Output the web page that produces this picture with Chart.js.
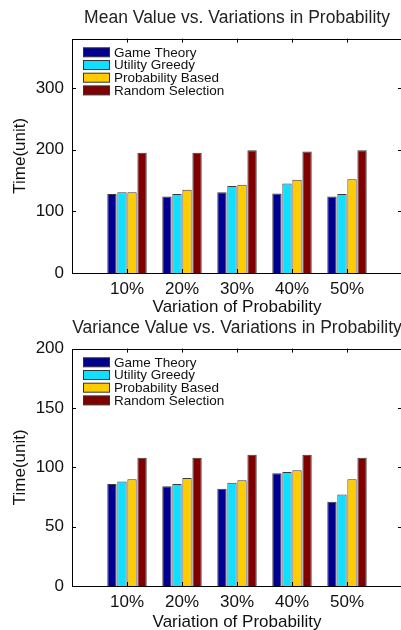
<!DOCTYPE html>
<html>
<head>
<meta charset="utf-8">
<script src="https://cdn.jsdelivr.net/npm/chart.js@4/dist/chart.umd.min.js"></script>
<style>
  html, body { margin: 0; padding: 0; background: #fff; overflow: hidden; width: 401px; height: 630px; }
  .box { position: absolute; left: 0; width: 420px; height: 315px; }
  #box1 { top: 0; }
  #box2 { top: 315px; }
</style>
</head>
<body>
<div class="box" id="box1"><canvas id="meanChart" width="420" height="315"></canvas></div>
<div class="box" id="box2"><canvas id="varChart" width="420" height="315"></canvas></div>
<script>
// blank categories at both ends give the 0..6 x range of the original axes
const categories = ['', '10%', '20%', '30%', '40%', '50%', ''];
const seriesNames = ['Game Theory', 'Utility Greedy', 'Probability Based', 'Random Selection'];
const seriesColors = ['#000090', '#10e0ff', '#ffcc00', '#800000'];

const meanGameTheory = [null, 128, 124, 131, 129, 124, null];
const meanUtilityGreedy = [null, 131, 128, 141, 145, 128, null];
const meanProbBased = [null, 131, 135, 143, 151, 152, null];
const meanRandom = [null, 195, 195, 199, 197, 199, null];

const varGameTheory = [null, 86, 84, 82, 95, 71, null];
const varUtilityGreedy = [null, 88, 86, 87, 96, 77, null];
const varProbBased = [null, 90, 91, 89, 97.5, 90, null];
const varRandom = [null, 108, 108, 110.5, 110.5, 108, null];

const meanTicks = [0, 100, 200, 300];
const varTicks = [0, 50, 100, 150, 200];

const FONT = 'Liberation Sans, Arial, Helvetica, sans-serif';

const frame = {
    id: 'frame',
    afterDraw(chart) {
        const ctx = chart.ctx;
        const a = chart.chartArea;
        const x = chart.scales.x, y = chart.scales.y;
        const t = 4;
        ctx.save();
        ctx.strokeStyle = '#000';
        ctx.lineWidth = 1;
        ctx.strokeRect(Math.round(a.left) + 0.5, Math.round(a.top) + 0.5, Math.round(a.right - a.left), Math.round(a.bottom - a.top));
        ctx.beginPath();
        y.ticks.forEach(tk => {
            const py = Math.round(y.getPixelForValue(tk.value)) + 0.5;
            ctx.moveTo(a.left, py); ctx.lineTo(a.left + t, py);
            ctx.moveTo(a.right, py); ctx.lineTo(a.right - t, py);
        });
        categories.forEach((c, i) => {
            if (!c) return;
            const px = Math.round(x.getPixelForValue(i)) + 0.5;
            ctx.moveTo(px, a.bottom); ctx.lineTo(px, a.bottom - t);
            ctx.moveTo(px, a.top); ctx.lineTo(px, a.top + t);
        });
        ctx.stroke();

        // legend inside the axes, top left
        ctx.font = '13.5px ' + FONT;
        ctx.textBaseline = 'middle';
        chart.data.datasets.forEach((ds, i) => {
            const cy = a.top + 13.7 + i * 12.7;
            ctx.fillStyle = ds.backgroundColor;
            ctx.fillRect(a.left + 11, cy - 4.5, 27, 9);
            ctx.strokeStyle = '#333';
            ctx.strokeRect(a.left + 11.5, cy - 4.5, 26, 9);
            ctx.fillStyle = '#111';
            ctx.fillText(ds.label, a.left + 42, cy + 0.5);
        });
        ctx.restore();
    }
};

function makeChart(id, title, series, ticks, yMax, titlePad, xHeight) {
    return new Chart(document.getElementById(id), {
        type: 'bar',
        data: {
            labels: categories,
            datasets: series.map((d, i) => ({
                label: seriesNames[i],
                data: d,
                backgroundColor: seriesColors[i],
                borderColor: '#3a3a3a',
                borderWidth: 1,
                categoryPercentage: 0.73,
                barPercentage: 0.93
            }))
        },
        options: {
            responsive: false,
            animation: false,
            layout: { padding: { left: 0, right: 18, top: 0, bottom: 0 } },
            plugins: {
                legend: { display: false },
                tooltip: { enabled: false },
                title: {
                    display: true,
                    text: title,
                    fullSize: false,
                    color: '#222',
                    font: { family: FONT, size: 17.5, weight: 'normal' },
                    padding: titlePad
                }
            },
            scales: {
                x: {
                    offset: false,
                    grid: { display: false, drawTicks: false },
                    border: { display: false },
                    ticks: { color: '#111', font: { family: FONT, size: 17 }, padding: 6, maxRotation: 0, autoSkip: false },
                    title: { display: true, text: 'Variation of Probability', color: '#111', font: { family: FONT, size: 17 }, padding: { top: 0, bottom: -3 } },
                    afterFit: s => { s.height = xHeight; }
                },
                y: {
                    min: 0,
                    max: yMax,
                    grid: { display: false, drawTicks: false },
                    border: { display: false },
                    ticks: { color: '#111', font: { family: FONT, size: 17 }, padding: 8 },
                    afterBuildTicks: s => { s.ticks = ticks.map(v => ({ value: v })); },
                    title: { display: true, text: 'Time(unit)', color: '#111', font: { family: FONT, size: 17 }, padding: { top: 10, bottom: 0 } },
                    afterFit: s => { s.width = 72; }
                }
            }
        },
        plugins: [frame]
    });
}

makeChart('meanChart', 'Mean Value vs. Variations in Probability',
    [meanGameTheory, meanUtilityGreedy, meanProbBased, meanRandom], meanTicks, 380, { top: 8, bottom: 9.6 }, 42);
makeChart('varChart', 'Variance Value vs. Variations in Probability',
    [varGameTheory, varUtilityGreedy, varProbBased, varRandom], varTicks, 200, { top: 3, bottom: 9.6 }, 44);
</script>
</body>
</html>
